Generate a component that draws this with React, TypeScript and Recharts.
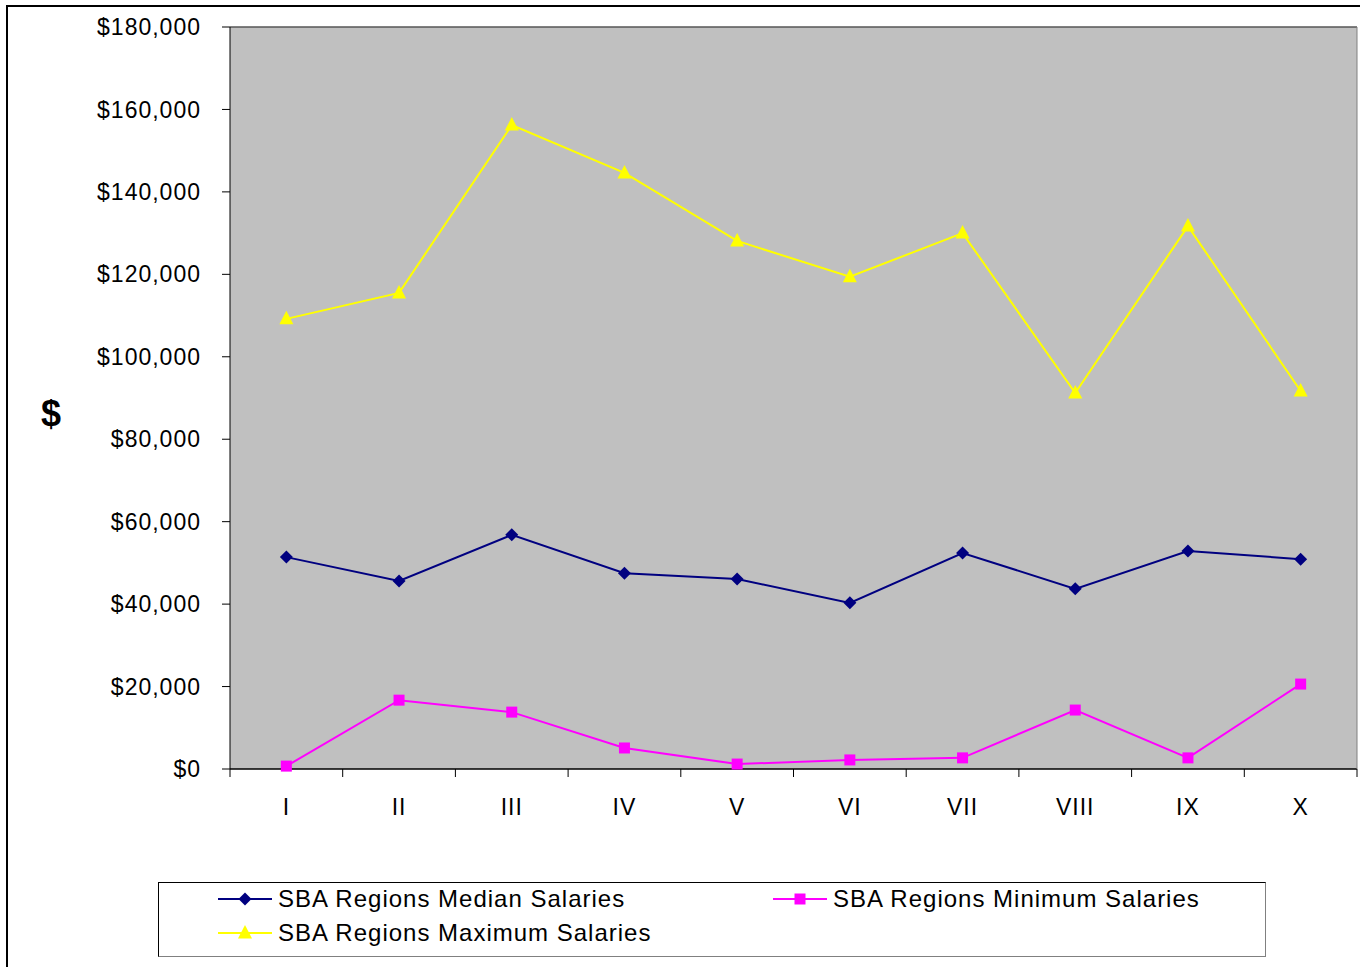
import React from 'react';
import { LineChart, Line, XAxis, YAxis, CartesianGrid, Label, ReferenceLine } from 'recharts';

const regions = ['I', 'II', 'III', 'IV', 'V', 'VI', 'VII', 'VIII', 'IX', 'X'];
const medianSalaries = [51400, 45600, 56800, 47500, 46100, 40300, 52400, 43700, 52900, 50900];
const minimumSalaries = [700, 16700, 13800, 5100, 1200, 2200, 2700, 14300, 2700, 20600];
const maximumSalaries = [109200, 115500, 156200, 144600, 128100, 119400, 130000, 91200, 131700, 91700];
const yTicks = [0, 20000, 40000, 60000, 80000, 100000, 120000, 140000, 160000, 180000];

const data = regions.map((region, i) => ({
  region,
  median: medianSalaries[i],
  minimum: minimumSalaries[i],
  maximum: maximumSalaries[i],
}));

type Shape = 'diamond' | 'square' | 'triangle';

const series: { key: string; name: string; color: string; shape: Shape }[] = [
  { key: 'median', name: 'SBA Regions Median Salaries', color: '#000080', shape: 'diamond' },
  { key: 'minimum', name: 'SBA Regions Minimum Salaries', color: '#FF00FF', shape: 'square' },
  { key: 'maximum', name: 'SBA Regions Maximum Salaries', color: '#FFFF00', shape: 'triangle' },
];

const FONT = 'Arial, "Liberation Sans", sans-serif';

function markerPath(shape: Shape, cx: number, cy: number) {
  if (shape === 'diamond') return `M${cx},${cy - 6.5} L${cx + 6.5},${cy} L${cx},${cy + 6.5} L${cx - 6.5},${cy} Z`;
  if (shape === 'square') return `M${cx - 5.5},${cy - 5.5} h11 v11 h-11 Z`;
  return `M${cx},${cy - 8} L${cx + 7},${cy + 5.5} L${cx - 7},${cy + 5.5} Z`;
}

const makeDot = (shape: Shape, color: string) => (props: any) => {
  const { cx, cy, index } = props;
  if (cx == null || cy == null) return <g key={index} />;
  return <path key={index} d={markerPath(shape, cx, cy)} fill={color} stroke="none" />;
};

// category label plus Excel-style tick marks between categories
const RegionTick = (props: any) => {
  const { x, y, payload, index } = props;
  const half = payload.offset || 0;
  const last = index === regions.length - 1;
  return (
    <g>
      <line x1={x - half} y1={y} x2={x - half} y2={y + 8} stroke="#000" />
      {last && <line x1={x + half} y1={y} x2={x + half} y2={y + 8} stroke="#000" />}
      <text
        x={x}
        y={y + 30}
        dy="0.71em"
        textAnchor="middle"
        fill="#000"
        fontSize={23}
        fontFamily={FONT}
        letterSpacing={1}
      >
        {payload.value}
      </text>
    </g>
  );
};

function LegendBox() {
  const rows = [
    [series[0], series[1]],
    [series[2]],
  ];
  return (
    <div
      style={{
        position: 'absolute',
        left: 158,
        top: 882,
        width: 1106,
        height: 73,
        border: '1px solid #000',
        borderBottomColor: '#808080',
        borderRightColor: '#808080',
        background: '#fff',
        fontFamily: FONT,
        fontSize: 24,
        letterSpacing: 1,
        color: '#000',
      }}
    >
      {rows.map((row, r) =>
        row.map((s, c) => (
          <div
            key={s.key}
            style={{
              position: 'absolute',
              left: c === 0 ? 59 : 614,
              top: r === 0 ? 1 : 35,
              height: 30,
              display: 'flex',
              alignItems: 'center',
              whiteSpace: 'nowrap',
            }}
          >
            <svg width={60} height={20} style={{ display: 'block' }}>
              <line x1={0} y1={10} x2={54} y2={10} stroke={s.color} strokeWidth={2} />
              <path d={markerPath(s.shape, 27, 10)} fill={s.color} />
            </svg>
            <span>{s.name}</span>
          </div>
        ))
      )}
    </div>
  );
}

export default function App() {
  return (
    <div style={{ position: 'absolute', left: 0, top: 0, width: 1360, height: 967, background: '#fff', overflow: 'hidden' }}>
      <div
        style={{
          position: 'absolute',
          left: 6,
          top: 5,
          width: 1400,
          height: 1000,
          borderLeft: '2px solid #000',
          borderTop: '2px solid #000',
        }}
      />
      <div style={{ position: 'absolute', left: 0, top: 0 }}>
        <LineChart
          width={1360}
          height={967}
          data={data}
          margin={{ top: 27, right: 0, left: 0, bottom: 0 }}
        >
          <CartesianGrid vertical={false} stroke="#000" fill="#C0C0C0" fillOpacity={1} />
          <XAxis
            xAxisId="cat"
            dataKey="region"
            scale="band"
            height={198}
            axisLine={{ stroke: '#000' }}
            tickLine={false}
            tickSize={0}
            tickMargin={0}
            tick={<RegionTick />}
            interval={0}
          />
          <YAxis
            yAxisId="left"
            width={230}
            domain={[0, 180000]}
            ticks={yTicks}
            tickSize={8}
            tickMargin={21}
            interval={0}
            axisLine={{ stroke: '#000' }}
            tickLine={{ stroke: '#000' }}
            tick={{ fill: '#000', fontSize: 23, fontFamily: FONT, letterSpacing: 1 }}
            tickFormatter={(v: number) => `$${v.toLocaleString('en-US')}`}
          >
            <Label
              value="$"
              position="insideLeft"
              offset={41}
              dy={15}
              style={{ fontSize: 36, fontWeight: 'bold', fontFamily: FONT, fill: '#000' }}
            />
          </YAxis>
          <YAxis
            yAxisId="right"
            orientation="right"
            width={3}
            domain={[0, 180000]}
            tick={false}
            tickLine={false}
            axisLine={{ stroke: '#808080' }}
          />
          <ReferenceLine yAxisId="left" xAxisId="cat" y={180000} stroke="#808080" />
          {series.map((s) => (
            <Line
              key={s.key}
              xAxisId="cat"
              yAxisId="left"
              type="linear"
              dataKey={s.key}
              name={s.name}
              stroke={s.color}
              strokeWidth={2}
              dot={makeDot(s.shape, s.color)}
              activeDot={false}
              isAnimationActive={false}
            />
          ))}
        </LineChart>
      </div>
      <LegendBox />
    </div>
  );
}
